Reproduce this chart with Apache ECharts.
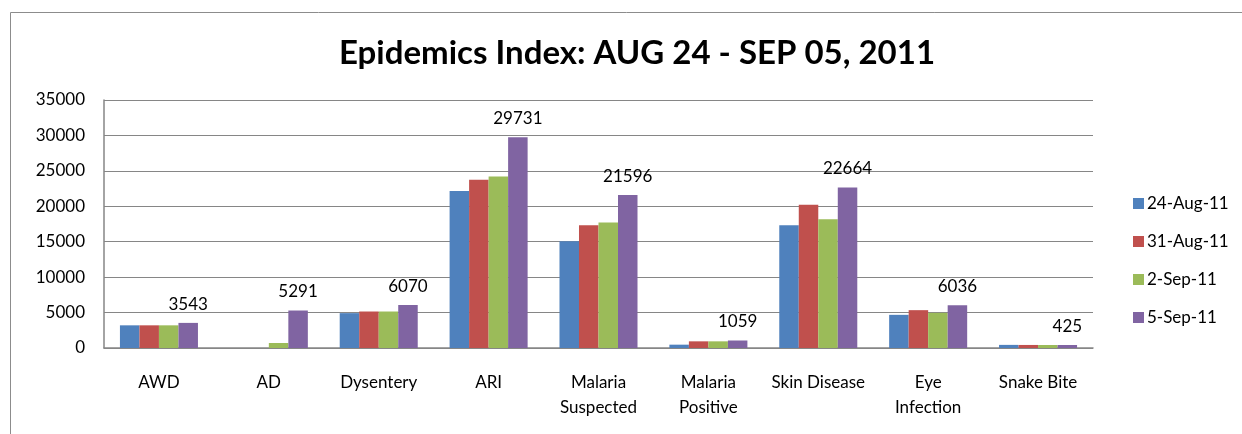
<!DOCTYPE html>
<html>
<head>
<meta charset="utf-8">
<script src="https://cdn.jsdelivr.net/npm/echarts@6/dist/echarts.min.js"></script>
<style>
html,body{margin:0;padding:0;background:#fff;}
#chart{width:1242px;height:434px;}
</style>
</head>
<body>
<div id="chart"></div>
<script>
const categories = ['AWD', 'AD', 'Dysentery', 'ARI', 'Malaria\nSuspected', 'Malaria\nPositive', 'Skin Disease', 'Eye\nInfection', 'Snake Bite'];
const seriesNames = ['24-Aug-11', '31-Aug-11', '2-Sep-11', '5-Sep-11'];
const aug24 = [3200, 0, 4920, 22140, 15080, 470, 17320, 4680, 440];
const aug31 = [3200, 0, 5150, 23740, 17320, 940, 20230, 5340, 430];
const sep02 = [3200, 710, 5150, 24210, 17700, 940, 18170, 4960, 420];
const sep05 = [3543, 5291, 6070, 29731, 21596, 1059, 22664, 6036, 425];
const yTicks = [0, 5000, 10000, 15000, 20000, 25000, 30000, 35000];
const colors = ['#4F81BD', '#C0504D', '#9BBB59', '#8064A2'];

const FONT = 'Lato, "Open Sans", sans-serif';
const chart = echarts.init(document.getElementById('chart'));
const allData = [aug24, aug31, sep02, sep05];
chart.setOption({
  animation: false,
  color: colors,
  textStyle: { fontFamily: FONT, color: '#000' },
  title: {
    text: 'Epidemics Index: AUG 24 - SEP 05, 2011',
    left: 632, top: 32, textAlign: 'center',
    textStyle: { fontFamily: FONT, fontSize: 33, fontWeight: 'bold', color: '#000' }
  },
  graphic: [{
    type: 'rect', shape: { x: 10.5, y: 12.5, width: 1400, height: 600 },
    style: { fill: 'none', stroke: '#8c8c8c', lineWidth: 1 }, silent: true, z: -1
  }],
  legend: {
    orient: 'vertical', left: 1128, top: 190,
    itemWidth: 11, itemHeight: 11, itemGap: 21,
    icon: 'rect',
    data: seriesNames,
    textStyle: { fontFamily: FONT, fontSize: 17, color: '#000', padding: [0,0,0,-2] }
  },
  grid: { left: 104, right: 149, top: 100, bottom: 86, containLabel: false },
  xAxis: {
    type: 'category', data: categories,
    axisLine: { show: true, lineStyle: { color: '#868686', width: 1.5 } },
    axisTick: { show: false },
    axisLabel: { fontFamily: FONT, fontSize: 17, color: '#000', margin: 22, lineHeight: 25, interval: 0 }
  },
  yAxis: {
    type: 'value', min: 0, max: yTicks[yTicks.length - 1], interval: yTicks[1] - yTicks[0],
    axisLine: { show: true, lineStyle: { color: '#868686', width: 1.5 } },
    axisTick: { show: false },
    splitLine: { lineStyle: { color: '#868686', width: 1.2 } },
    axisLabel: { fontFamily: FONT, fontSize: 17, color: '#000', margin: 19, formatter: v => String(v) }
  },
  series: seriesNames.map((name, i) => ({
    name, type: 'bar', data: allData[i],
    barGap: '0%', barCategoryGap: '29%',
    itemStyle: { color: colors[i] },
    label: i === 3 ? { show: true, position: 'top', distance: 10, fontFamily: FONT, fontSize: 17, color: '#000' } : { show: false }
  }))
});
</script>
</body>
</html>
